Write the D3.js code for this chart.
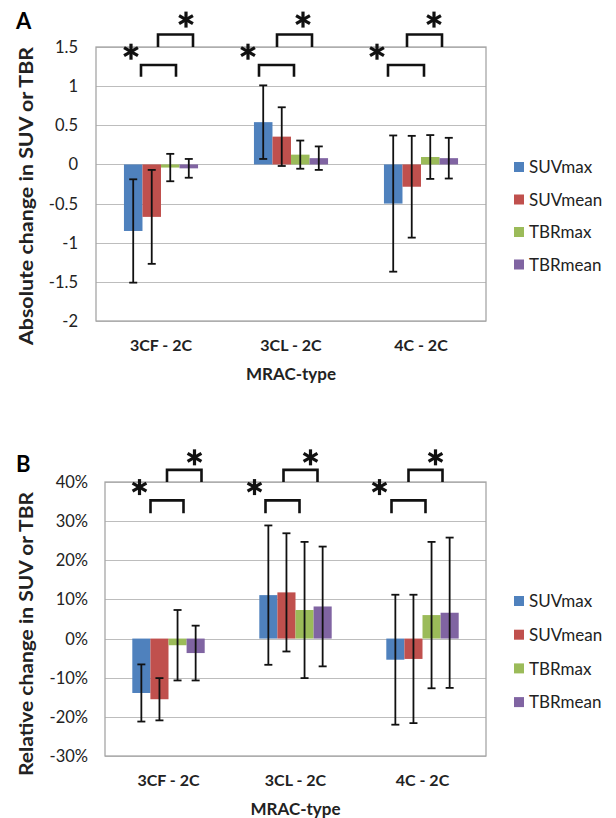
<!DOCTYPE html>
<html>
<head>
<meta charset="utf-8">
<title>MRAC change in SUV / TBR</title>
<script src="https://cdnjs.cloudflare.com/ajax/libs/d3/7.8.5/d3.min.js"></script>
<style>
    body { margin: 0; background: #fff; }
    text { font-family: Lato, "Open Sans", sans-serif; }
</style>
</head>
<body>
<div id="chart"></div>
<script>
    var width = 616,
        height = 818;

    // categories and series
    var categories = ["3CF - 2C", "3CL - 2C", "4C - 2C"];
    var seriesNames = ["SUVmax", "SUVmean", "TBRmax", "TBRmean"];
    var colors = ["#4F81BD", "#C0504D", "#9BBB59", "#8064A2"];

    // panel A: absolute change (mean, sd) per series, one value per category
    var absMean = [
        [-0.85, 0.54, -0.50],
        [-0.67, 0.355, -0.285],
        [-0.04, 0.125, 0.095],
        [-0.05, 0.08, 0.08]
    ];
    var absSd = [
        [0.66, 0.47, 0.87],
        [0.60, 0.375, 0.65],
        [0.175, 0.18, 0.28],
        [0.12, 0.15, 0.26]
    ];
    var absTicks = [-2, -1.5, -1, -0.5, 0, 0.5, 1, 1.5];

    // panel B: relative change in %
    var relMean = [
        [-13.9, 11.1, -5.4],
        [-15.5, 11.8, -5.2],
        [-1.7, 7.3, 6.0],
        [-3.7, 8.2, 6.6]
    ];
    var relSd = [
        [7.3, 17.8, 16.6],
        [5.4, 15.1, 16.4],
        [9.0, 17.4, 18.7],
        [7.0, 15.3, 19.2]
    ];
    var relTicks = [-30, -20, -10, 0, 10, 20, 30, 40];

    // significance brackets: [category, left offset, right offset, star offset] (px from category centre)
    var absBracketsLow = [[0, -20, 15, -30], [1, -32, 3, -43], [2, -33, 3, -44]];
    var absBracketsHigh = [[0, -3, 32, 25], [1, -14, 21, 12], [2, -14, 21, 13]];
    var relBracketsLow = [[0, -18, 15, -29], [1, -30, 4, -41], [2, -31, 3, -43]];
    var relBracketsHigh = [[0, -1.5, 33, 26], [1, -12, 22, 15], [2, -14, 20, 13]];

    var svg = d3.select("#chart").append("svg")
        .attr("width", width)
        .attr("height", height);

    // six-armed asterisk
    function star(g, cx, cy) {
        var r = 8;
        [90, 30, -30].forEach(function(a) {
            var t = a * Math.PI / 180;
            g.append("line")
                .attr("x1", cx - r * Math.cos(t)).attr("y1", cy - r * Math.sin(t))
                .attr("x2", cx + r * Math.cos(t)).attr("y2", cy + r * Math.sin(t))
                .attr("stroke", "#111")
                .attr("stroke-width", 3.2);
        });
    }

    function drawPanel(opt) {
        var g = svg.append("g");

        var x = d3.scaleBand()
            .domain(categories)
            .range([opt.left, opt.right]);

        var y = d3.scaleLinear()
            .domain([opt.ticks[0], opt.ticks[opt.ticks.length - 1]])
            .range([opt.bottom, opt.top]);

        var groupW = x.bandwidth() * 0.57;
        var xs = d3.scaleBand()
            .domain(seriesNames)
            .range([-groupW / 2, groupW / 2]);

        // gridlines
        g.selectAll(".grid")
            .data(opt.ticks)
            .enter().append("line")
            .attr("x1", opt.left).attr("x2", opt.right)
            .attr("y1", function(d) { return Math.round(y(d)) + 0.5; })
            .attr("y2", function(d) { return Math.round(y(d)) + 0.5; })
            .attr("stroke", "#BDBDBD")
            .attr("stroke-width", 1.2);

        // frame
        g.append("rect")
            .attr("x", opt.left).attr("y", y(opt.ticks[opt.ticks.length - 1]))
            .attr("width", opt.right - opt.left)
            .attr("height", opt.bottom - opt.top)
            .attr("fill", "none")
            .attr("stroke", "#A6A6A6")
            .attr("stroke-width", 1.3);

        // tick labels
        g.selectAll(".ytick")
            .data(opt.ticks)
            .enter().append("text")
            .attr("x", opt.tickX)
            .attr("y", function(d) { return y(d); })
            .attr("dy", "0.36em")
            .attr("text-anchor", "end")
            .attr("font-size", "16.5px")
            .attr("fill", "#222")
            .text(opt.format);

        // bars
        seriesNames.forEach(function(s, i) {
            var bars = g.append("g");
            bars.selectAll("rect")
                .data(categories)
                .enter().append("rect")
                .attr("x", function(c) { return x(c) + x.bandwidth() / 2 + xs(s); })
                .attr("width", xs.bandwidth())
                .attr("y", function(c, j) { return y(Math.max(0, opt.mean[i][j])); })
                .attr("height", function(c, j) { return Math.abs(y(opt.mean[i][j]) - y(0)); })
                .attr("fill", colors[i]);

            // error bars
            categories.forEach(function(c, j) {
                var cx = x(c) + x.bandwidth() / 2 + xs(s) + xs.bandwidth() / 2;
                var lo = y(opt.mean[i][j] - opt.sd[i][j]),
                    hi = y(opt.mean[i][j] + opt.sd[i][j]);
                var eb = bars.append("g")
                    .attr("stroke", "#111")
                    .attr("stroke-width", 1.8);
                eb.append("line").attr("x1", cx).attr("x2", cx).attr("y1", lo).attr("y2", hi);
                eb.append("line").attr("x1", cx - 4).attr("x2", cx + 4).attr("y1", lo).attr("y2", lo);
                eb.append("line").attr("x1", cx - 4).attr("x2", cx + 4).attr("y1", hi).attr("y2", hi);
            });
        });

        // category labels
        g.selectAll(".xtick")
            .data(categories)
            .enter().append("text")
            .attr("x", function(c) { return x(c) + x.bandwidth() / 2; })
            .attr("y", opt.bottom + 30)
            .attr("text-anchor", "middle")
            .attr("font-size", "16px")
            .attr("font-weight", "bold")
            .attr("fill", "#222")
            .text(function(c) { return c; });

        g.append("text")
            .attr("x", (opt.left + opt.right) / 2)
            .attr("y", opt.bottom + 59)
            .attr("text-anchor", "middle")
            .attr("font-size", "17px")
            .attr("font-weight", "bold")
            .attr("fill", "#222")
            .text("MRAC-type");

        // y axis title
        g.append("text")
            .attr("transform", "translate(" + opt.titleX + "," + opt.titleY + ") rotate(-90)")
            .attr("text-anchor", "middle")
            .attr("font-size", "18.5px")
            .attr("font-weight", "bold")
            .attr("fill", "#222")
            .attr("textLength", opt.titleLen)
            .attr("lengthAdjust", "spacingAndGlyphs")
            .text(opt.title);

        // panel letter
        g.append("text")
            .attr("x", 16)
            .attr("y", opt.letterY)
            .attr("font-family", "Liberation Sans, Arial, sans-serif")
            .attr("font-size", "22px")
            .attr("font-weight", "bold")
            .text(opt.letter);

        // significance brackets
        function bracket(list, yTop, yLeg, yStar) {
            list.forEach(function(b) {
                var cx = x(categories[b[0]]) + x.bandwidth() / 2;
                g.append("path")
                    .attr("d", "M" + (cx + b[1]) + "," + y(yLeg) + "V" + y(yTop) + "H" + (cx + b[2]) + "V" + y(yLeg))
                    .attr("fill", "none")
                    .attr("stroke", "#111")
                    .attr("stroke-width", 2.6);
                star(g, cx + b[3], y(yStar));
            });
        }
        bracket(opt.bLow, opt.bY[0], opt.bY[1], opt.bY[2]);
        bracket(opt.bHigh, opt.bY[3], opt.bY[4], opt.bY[5]);

        // legend
        var leg = g.selectAll(".legend")
            .data(seriesNames)
            .enter().append("g")
            .attr("transform", function(d, i) { return "translate(514," + (opt.legTop + i * opt.legStep) + ")"; });
        leg.append("rect")
            .attr("x", 0).attr("y", -5)
            .attr("width", 10).attr("height", 10)
            .attr("fill", function(d, i) { return colors[i]; });
        leg.append("text")
            .attr("x", 15)
            .attr("dy", "0.36em")
            .attr("font-size", "17px")
            .attr("fill", "#222")
            .text(function(d) { return d; });
    }

    drawPanel({
        left: 96, right: 486, top: 47, bottom: 321,
        ticks: absTicks, mean: absMean, sd: absSd,
        format: function(d) { return d3.format("")(d).replace("−", "-"); },
        tickX: 78, titleX: 33, titleY: 196, titleLen: 298, title: "Absolute change in SUV or TBR",
        letter: "A", letterY: 29,
        bLow: absBracketsLow, bHigh: absBracketsHigh,
        bY: [1.27, 1.12, 1.44, 1.66, 1.5, 1.85],
        legTop: 167, legStep: 32.5
    });

    drawPanel({
        left: 105, right: 486, top: 482, bottom: 756,
        ticks: relTicks, mean: relMean, sd: relSd,
        format: function(d) { return d + "%"; },
        tickX: 88, titleX: 33, titleY: 634, titleLen: 284, title: "Relative change in SUV or TBR",
        letter: "B", letterY: 472,
        bLow: relBracketsLow, bHigh: relBracketsHigh,
        bY: [35.3, 32, 38.7, 43.1, 40, 46.3],
        legTop: 601, legStep: 33.7
    });
</script>
</body>
</html>
